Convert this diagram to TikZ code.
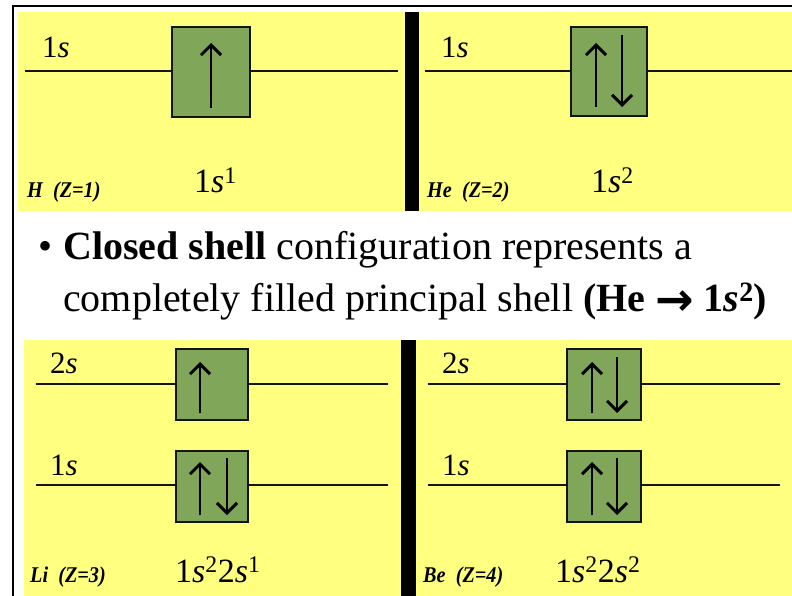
\documentclass[tikz,border=0pt]{standalone}
\usepackage{fontspec}
\usepackage{graphicx}
\setmainfont{Liberation Serif}
\newfontfamily\arrowfont{DejaVu Sans}
\usetikzlibrary{arrows.meta}
\definecolor{panelyellow}{RGB}{255,255,128}
\definecolor{boxgreen}{RGB}{128,166,90}
\definecolor{ink}{RGB}{20,20,20}
\tikzset{
  panel/.style={fill=panelyellow, draw=none},
  bar/.style={fill=black, draw=none},
  orbbox/.style={draw=ink, line width=1.4pt, fill=boxgreen, inner sep=0pt, minimum width=#1},
  orbbox/.default=76pt,
  level/.style={draw=ink, line width=1.8pt},
  spin/.style={draw=black, line width=1.7pt, -{Straight Barb[length=10pt,width=20pt,line width=3pt]}},
  orblabel/.style={anchor=base west, inner sep=0pt, font=\fontsize{31}{31}\selectfont},
  conflabel/.style={anchor=base west, inner sep=0pt, font=\fontsize{34}{34}\selectfont},
  atomlabel/.style={anchor=base west, inner sep=0pt, font=\fontsize{22.5}{22.5}\selectfont\bfseries\itshape},
  bodytext/.style={anchor=base west, inner sep=0pt, font=\fontsize{40}{40}\selectfont},
}
\newcommand{\sx}{\textit{s}}
\newcommand{\atm}[1]{\scalebox{0.9}[1]{#1}}
\newcommand{\barrow}{\raisebox{-4.5pt}{\arrowfont\bfseries\fontsize{46}{46}\selectfont →}}
\begin{document}
\begin{tikzpicture}[x=1pt, y=-1pt]
\useasboundingbox (0,0) rectangle (792,596);
% frame
\fill[black] (12,5) rectangle (792,7.5);
\fill[black] (12,5) rectangle (14.2,596);
% panels
\path[panel] (18,12) rectangle (405,211);
\path[bar] (405,12) rectangle (419,211);
\path[panel] (419,12) rectangle (792,211);
\path[panel] (24,340) rectangle (401,596);
\path[bar] (401,340) rectangle (416,596);
\path[panel] (416,340) rectangle (792,596);

% ---------- H ----------
\node[orbbox=78pt, minimum height=90pt] (hbox) at (211,72) {};
\coordinate (hL) at (25,71);
\coordinate (hR) at (398,71);
\draw[level] (hL) -- (hbox.west |- hL);
\draw[level] (hbox.east |- hR) -- (hR);
\coordinate (hu0) at (211,108); \coordinate (hu1) at (211,43);
\draw[spin] (hu0) -- (hu1);
\node[orblabel] (h1s) at (42,58) {1\sx};
\node[atomlabel] (hname) at (27,197) {\atm{H\ \ (Z=1)}};
\node[conflabel] (hconf) at (194,193) {1\sx\textsuperscript{1}};

% ---------- He ----------
\node[orbbox=76pt, minimum height=89pt] (hebox) at (609,71.5) {};
\coordinate (heL) at (425,71);
\coordinate (heR) at (792,71);
\draw[level] (heL) -- (hebox.west |- heL);
\draw[level] (hebox.east |- heR) -- (heR);
\coordinate (heu0) at (596,107); \coordinate (heu1) at (596,43);
\coordinate (hed0) at (622,35); \coordinate (hed1) at (622,107);
\draw[spin] (heu0) -- (heu1);
\draw[spin] (hed0) -- (hed1);
\node[orblabel] (he1s) at (441,58) {1\sx};
\node[atomlabel] (hename) at (427,197) {\atm{He\ \ (Z=2)}};
\node[conflabel] (heconf) at (591,193) {1\sx\textsuperscript{2}};

% ---------- body text ----------
\node[bodytext] (bul) at (38,259) {\textbullet};
\node[bodytext] (t1) at (63,259) {\textbf{Closed shell} configuration represents a};
\node[bodytext] (t2) at (63,311) {completely filled principal shell \textbf{(He \barrow{} 1\textit{s}\textsuperscript{2})}};

% ---------- Li ----------
\node[orbbox=72pt, minimum height=71pt] (li2box) at (212,384.5) {};
\node[orbbox=72pt, minimum height=71pt] (li1box) at (212,486.5) {};
\coordinate (li2L) at (36,384); \coordinate (li2R) at (388,384);
\coordinate (li1L) at (36,485); \coordinate (li1R) at (388,485);
\draw[level] (li2L) -- (li2box.west |- li2L);
\draw[level] (li2box.east |- li2R) -- (li2R);
\draw[level] (li1L) -- (li1box.west |- li1L);
\draw[level] (li1box.east |- li1R) -- (li1R);
\coordinate (la0) at (200,413); \coordinate (la1) at (200,362);
\coordinate (lb0) at (200,515); \coordinate (lb1) at (200,462);
\coordinate (lc0) at (227,458); \coordinate (lc1) at (227,515);
\draw[spin] (la0) -- (la1);
\draw[spin] (lb0) -- (lb1);
\draw[spin] (lc0) -- (lc1);
\node[orblabel] (li2s) at (50,373) {2\sx};
\node[orblabel] (li1s) at (50,475) {1\sx};
\node[atomlabel] (liname) at (30,582) {\atm{Li\ \ (Z=3)}};
\node[conflabel] (liconf) at (175,582) {1\sx\textsuperscript{2}2\sx\textsuperscript{1}};

% ---------- Be ----------
\node[orbbox=74pt, minimum height=71pt] (be2box) at (604,384.5) {};
\node[orbbox=74pt, minimum height=71pt] (be1box) at (604,486.5) {};
\coordinate (be2L) at (428,384); \coordinate (be2R) at (780,384);
\coordinate (be1L) at (428,485); \coordinate (be1R) at (780,485);
\draw[level] (be2L) -- (be2box.west |- be2L);
\draw[level] (be2box.east |- be2R) -- (be2R);
\draw[level] (be1L) -- (be1box.west |- be1L);
\draw[level] (be1box.east |- be1R) -- (be1R);
\coordinate (ba0) at (592,413); \coordinate (ba1) at (592,362);
\coordinate (bb0) at (617,357); \coordinate (bb1) at (617,413);
\coordinate (bc0) at (592,515); \coordinate (bc1) at (592,462);
\coordinate (bd0) at (617,458); \coordinate (bd1) at (617,515);
\draw[spin] (ba0) -- (ba1);
\draw[spin] (bb0) -- (bb1);
\draw[spin] (bc0) -- (bc1);
\draw[spin] (bd0) -- (bd1);
\node[orblabel] (be2s) at (442,373) {2\sx};
\node[orblabel] (be1s) at (442,475) {1\sx};
\node[atomlabel] (bename) at (423,582) {\atm{Be\ \ (Z=4)}};
\node[conflabel] (beconf) at (555,582) {1\sx\textsuperscript{2}2\sx\textsuperscript{2}};
\end{tikzpicture}
\end{document}
